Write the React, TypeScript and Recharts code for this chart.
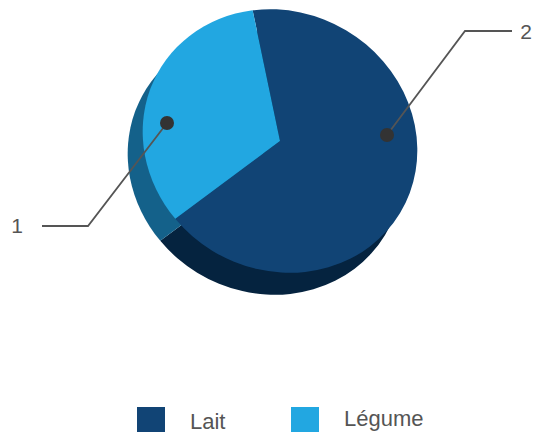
import React from 'react'
import { PieChart, Pie, Cell, Legend, Sector } from 'recharts'

const categories = ['Lait', 'Légume']
const values = [67, 33]
const calloutLabels = ['2', '1']

const topColors = ['#114475', '#22A7E1']
const sideColors = ['#05233F', '#14618A']

const data = categories.map((name, i) => ({ name, value: values[i] }))

const tilt = 30
const squash = 0.921

// tilted elliptical slice, the library only draws round ones
const EllipseSector = (props: any) => (
  <g transform={`translate(${props.cx} ${props.cy}) rotate(${tilt}) scale(1 ${squash}) translate(${-props.cx} ${-props.cy})`}>
    <Sector {...props} stroke='none' />
  </g>
)

const callouts = [
  { dot: [107, -6], elbow: [185, -110], end: [232, -110], text: [246, -110] },
  { dot: [-113, -18], elbow: [-192, 85], end: [-238, 85], text: [-263, 84] },
]

const renderCallout = (props: any) => {
  const c = callouts[props.index]
  const at = (p: number[]) => `${props.cx + p[0]},${props.cy + p[1]}`
  return (
    <g key={props.index}>
      <polyline
        points={[at(c.dot), at(c.elbow), at(c.end)].join(' ')}
        fill='none'
        stroke='#555'
        strokeWidth={1.8}
      />
      <circle cx={props.cx + c.dot[0]} cy={props.cy + c.dot[1]} r={7} fill='#333' />
      <text
        x={props.cx + c.text[0]}
        y={props.cy + c.text[1]}
        textAnchor='middle'
        dominantBaseline='central'
        fontFamily='Liberation Sans'
        fontSize={21}
        fill='#555'
      >
        {calloutLabels[props.index]}
      </text>
    </g>
  )
}

const legendPlace = [
  { box: 137, text: 190, top: 407, textTop: 412 },
  { box: 291, text: 344, top: 407, textTop: 409 },
]

const renderLegend = ({ payload }: any) => {
  // the side pie is hidden from the legend
  const items = (payload ?? []).filter((item: any) => item.type !== 'none')
  return (
    <div>
      {items.map((item: any, i: number) => (
        <React.Fragment key={item.value}>
          <div
            style={{
              position: 'absolute',
              left: legendPlace[i].box,
              top: legendPlace[i].top,
              width: 28,
              height: 28,
              background: item.color,
            }}
          />
          <div
            style={{
              position: 'absolute',
              left: legendPlace[i].text,
              top: legendPlace[i].textTop,
              fontFamily: 'Liberation Sans',
              fontSize: 22,
              lineHeight: '20px',
              color: '#555',
            }}
          >
            {item.value}
          </div>
        </React.Fragment>
      ))}
    </div>
  )
}

export default function App() {
  return (
    <div style={{ position: 'absolute', left: 0, top: 0, width: 536, height: 432, overflow: 'hidden' }}>
      <PieChart width={536} height={432} margin={{ top: 0, right: 0, bottom: 0, left: 0 }}>
        <Pie
          data={data}
          dataKey='value'
          nameKey='name'
          cx={265}
          cy={163}
          outerRadius={140}
          startAngle={129.5}
          endAngle={-230.5}
          legendType='none'
          shape={EllipseSector}
          isAnimationActive={false}
        >
          {data.map((d, i) => (
            <Cell key={d.name} fill={sideColors[i]} />
          ))}
        </Pie>
        <Pie
          data={data}
          dataKey='value'
          nameKey='name'
          cx={280}
          cy={141}
          outerRadius={140}
          startAngle={129.5}
          endAngle={-230.5}
          shape={EllipseSector}
          label={renderCallout}
          labelLine={false}
          isAnimationActive={false}
        >
          {data.map((d, i) => (
            <Cell key={d.name} fill={topColors[i]} />
          ))}
        </Pie>
        <Legend content={renderLegend} wrapperStyle={{ position: 'absolute', left: 0, top: 0 }} />
      </PieChart>
    </div>
  )
}
